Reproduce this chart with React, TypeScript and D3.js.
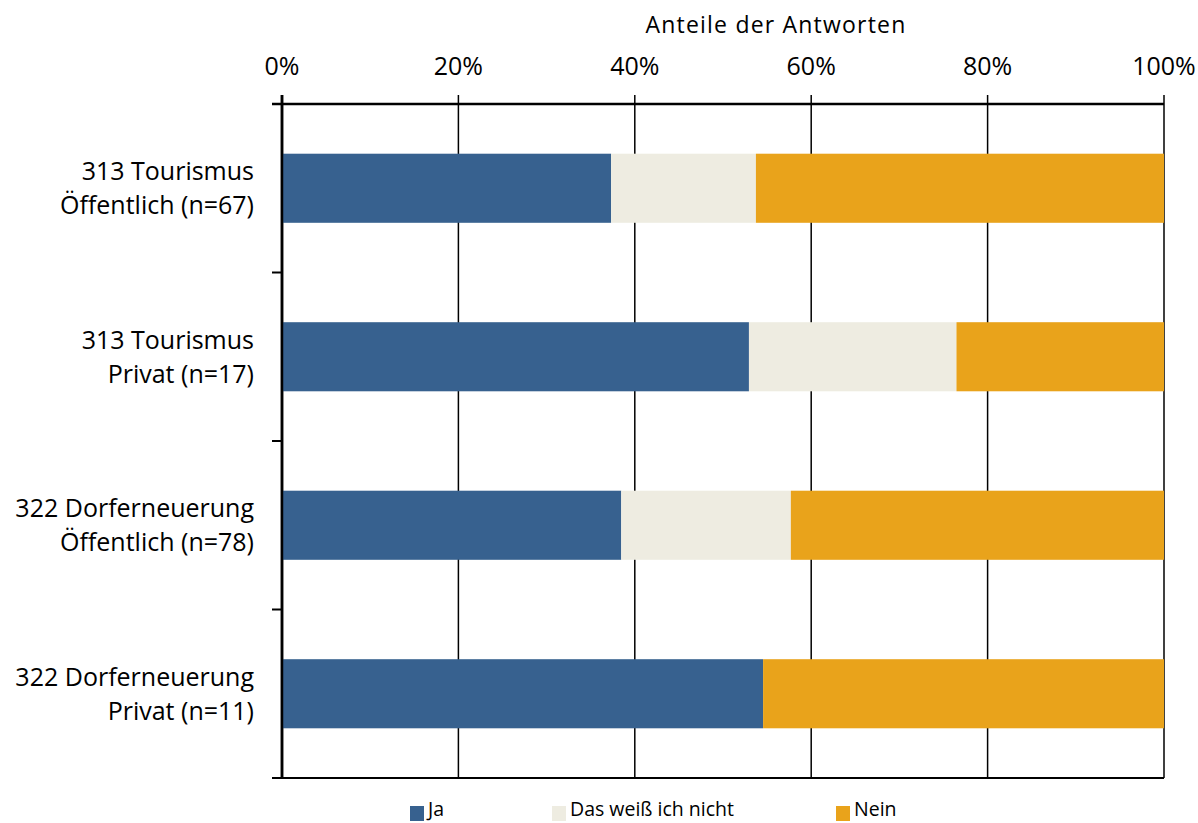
import React from "react";
import * as d3 from "d3";

const categories = [
  ["313 Tourismus", "Öffentlich (n=67)"],
  ["313 Tourismus", "Privat (n=17)"],
  ["322 Dorferneuerung", "Öffentlich (n=78)"],
  ["322 Dorferneuerung", "Privat (n=11)"],
];
const seriesNames = ["Ja", "Das weiß ich nicht", "Nein"];
const ja = [25 / 67, 9 / 17, 30 / 78, 6 / 11];
const weissNicht = [11 / 67, 4 / 17, 15 / 78, 0];
const nein = [31 / 67, 4 / 17, 33 / 78, 5 / 11];
const xTicks = [0, 0.2, 0.4, 0.6, 0.8, 1];
const colors = ["#37618F", "#EEECE1", "#E9A31B"];

const W = 1198;
const H = 823;
const FONT = "'Open Sans', 'Noto Sans', sans-serif";

export default function App() {
  const x = d3.scaleLinear().domain([0, 1]).range([282, 1164]);
  const y = d3
    .scaleBand<number>()
    .domain(categories.map((_, i) => i))
    .range([104, 778])
    .paddingInner(0.59)
    .paddingOuter(0.295);
  const yEdges = d3.range(categories.length + 1).map((i) => 104 + (i * (778 - 104)) / categories.length);
  const data = categories.map((_, i) => [ja[i], weissNicht[i], nein[i]]);
  const stacked = data.map((row) => {
    let acc = 0;
    return row.map((v) => {
      const s = acc;
      acc += v;
      return [s, acc];
    });
  });
  const legendX = [410, 552, 836];

  return (
    <svg width={W} height={H} style={{ position: "absolute", left: 0, top: 0, fontFamily: FONT }}>
      <rect width={W} height={H} fill="white" />
      <text x={776} y={33} textAnchor="middle" fontSize={23} letterSpacing={1.2} fill="#000">
        Anteile der Antworten
      </text>
      {xTicks.map((t) => (
        <g key={t}>
          <text x={x(t)} y={75} textAnchor="middle" fontSize={25} fill="#000">
            {d3.format(".0%")(t)}
          </text>
          <line x1={x(t)} x2={x(t)} y1={95} y2={778} stroke="#000" strokeWidth={t === 0 ? 2.5 : 1.5} />
        </g>
      ))}
      {stacked.map((row, i) =>
        row.map(([a, b], j) =>
          b - a > 0 ? (
            <rect
              key={`${i}-${j}`}
              x={x(a)}
              y={y(i)!}
              width={x(b) - x(a)}
              height={y.bandwidth()}
              fill={colors[j]}
            />
          ) : null
        )
      )}
      <line x1={272} x2={1164} y1={104} y2={104} stroke="#000" strokeWidth={2.5} />
      <line x1={272} x2={1164} y1={778} y2={778} stroke="#000" strokeWidth={2} />
      {yEdges.map((e, i) => (
        <line key={i} x1={272} x2={282} y1={e} y2={e} stroke="#000" strokeWidth={2} />
      ))}
      <line x1={282} x2={282} y1={95} y2={778} stroke="#000" strokeWidth={2.5} />
      {categories.map((lines, i) => {
        const cy = y(i)! + y.bandwidth() / 2;
        return (
          <text key={i} textAnchor="end" fontSize={25} fill="#000">
            <tspan x={254} y={cy - 8}>{lines[0]}</tspan>
            <tspan x={254} y={cy + 26}>{lines[1]}</tspan>
          </text>
        );
      })}
      {seriesNames.map((s, i) => (
        <g key={s}>
          <rect x={legendX[i]} y={806} width={14} height={15} fill={colors[i]} />
          <text x={legendX[i] + 18} y={816} fontSize={19.5} fill="#000">
            {s}
          </text>
        </g>
      ))}
    </svg>
  );
}
